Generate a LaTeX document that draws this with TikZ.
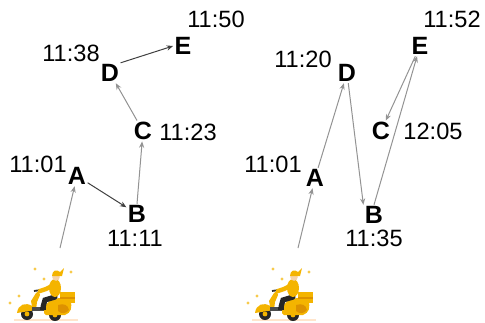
\documentclass[tikz,border=0pt]{standalone}
\usepackage{fontspec}
\setmainfont{Liberation Sans}
\usepackage{tikz}
\usetikzlibrary{arrows.meta}
\usetikzlibrary{positioning}
\tikzset{>=stealth}
\definecolor{bike}{HTML}{F4B400}
\definecolor{bikedark}{HTML}{DD9200}
\definecolor{skin}{HTML}{F6D2A8}
\tikzstyle{route} = [draw=gray!85, line width=0.5pt, -{Stealth[length=3.2pt,width=2.6pt]}]

\begin{document}
\begin{tikzpicture}[x=0.5pt, y=-0.5pt,
      spot/.style={font=\bfseries\fontsize{12.5}{13}\selectfont, inner sep=0.6pt},
      clock/.style={font=\fontsize{11.8}{13}\selectfont, inner sep=0pt},
      courier/.pic={
        % little spark dots
        \foreach \p in {(35,14),(44,24),(71,17),(19,41),(10,48)}
          \fill[bike!70] \p circle (1.6);
        \fill[orange!20] (14,64.3) rectangle (78,65.7);
        % wheels
        \fill[black!85] (27,59) circle (6);
        \fill[black!85] (55,60) circle (6);
        \fill[bike] (27,59) circle (2.4);
        \fill[bike] (55,60) circle (2.4);
        % front shield and fender
        \fill[bike] (17,58) .. controls (18,49) and (26,47) .. (32,51)
          -- (31,46) -- (36,38) -- (39,36) -- (40,40) -- (37,47) -- (36,55) -- cycle;
        \draw[black!80, line width=0.9pt] (34,36) -- (41,35);
        % floor and rear cowl
        \fill[black!70] (32,52) rectangle (47,56);
        \fill[bike] (44,58) .. controls (44,47) and (52,43) .. (62,43)
          -- (70,45) .. controls (73,52) and (71,58) .. (65,60) -- (46,60) -- cycle;
        \fill[bikedark] (58,50) .. controls (64,48) and (68,50) .. (69,55)
          .. controls (66,59) and (61,59) .. (58,56) -- cycle;
        % delivery box
        \fill[bike] (60,37) rectangle (75,48);
        \fill[bikedark] (60,42) rectangle (75,44);
        % rider
        \draw[black!85, line width=2.6pt, line cap=round] (55,42) -- (45,45) -- (43,52);
        \fill[black!85] (40,52) rectangle (46,55);
        \fill[bike] (55,33) ellipse (6 and 9);
        \draw[bike, line width=2.2pt, line cap=round] (54,30) -- (46,34) -- (40,36);
        \fill[skin] (56,22) circle (3.8);
        \fill[bike] (52,21) .. controls (52,15) and (57,14) .. (60,17) -- (64,13) -- (62,21) -- cycle;
      }]
    \useasboundingbox (0,0) rectangle (485,322);
    %% first tour
    \pic at (0,255) {courier};
    \coordinate (S1) at (60,248);
    \node [spot] (A1) at (77,176) {A};
    \node [spot] (B1) at (137,214) {B};
    \node [spot] (C1) at (143,131) {C};
    \node [spot] (D1) at (110,73) {D};
    \node [spot] (E1) at (183,46) {E};
    \node [clock] at (38,164) {11:01};
    \node [clock] at (135,238) {11:11};
    \node [clock] at (188,132) {11:23};
    \node [clock] at (71,53) {11:38};
    \node [clock] at (216,19) {11:50};
    \path [route] (S1) to (A1);
    \path [route, draw=black!75] (A1) to (B1);
    \path [route] (B1.north) to (C1);
    \path [route] (C1) to (D1);
    \path [route, draw=black!75] (D1.north east) to (E1.west);
    %% second tour
    \pic at (238,255) {courier};
    \coordinate (S2) at (298,248);
    \node [spot] (A2) at (315,178) {A};
    \node [spot] (B2) at (374,215) {B};
    \node [spot] (C2) at (381,131) {C};
    \node [spot] (D2) at (347,73) {D};
    \node [spot] (E2) at (420,46) {E};
    \node [clock] at (273,164) {11:01};
    \node [clock] at (374,238) {11:35};
    \node [clock] at (433,131) {12:05};
    \node [clock] at (303,59) {11:20};
    \node [clock] at (452,19) {11:52};
    \path [route] (S2) to (A2);
    \path [route] (A2) to (D2);
    \path [route] (D2) to (B2.north west);
    \path [route] (B2.north) to (E2);
    \path [route] (E2) to (C2);
  \end{tikzpicture}
\end{document}
